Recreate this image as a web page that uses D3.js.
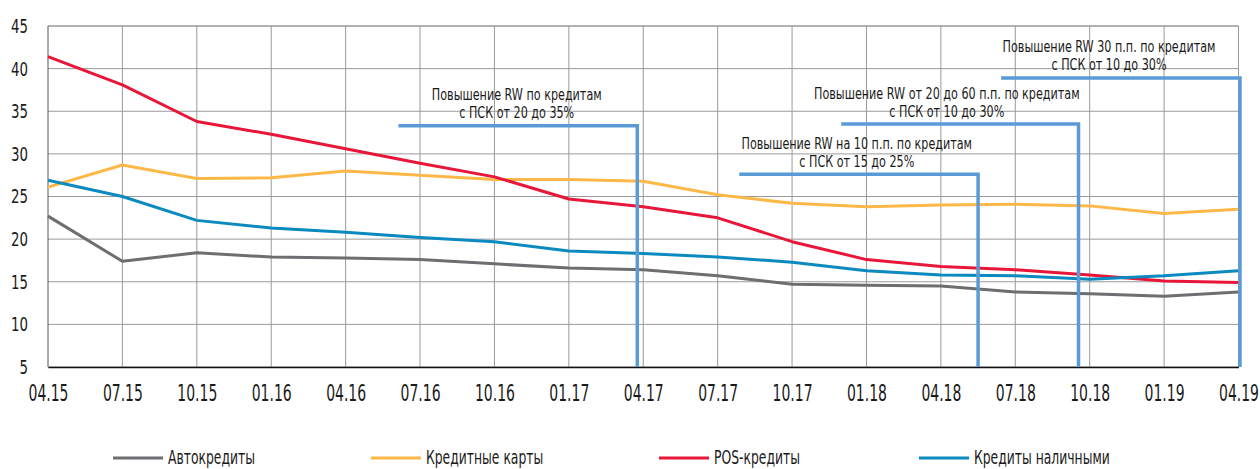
<!DOCTYPE html>
<html>
<head>
<meta charset="utf-8">
<script src="https://cdn.jsdelivr.net/npm/d3@7"></script>
<style>
  body { margin: 0; background: #fff; }
  #chart text { font-family: "DejaVu Sans Condensed", "Liberation Sans Narrow", "Open Sans", sans-serif; fill: #1a1a1a; }
</style>
</head>
<body>
<div id="chart"></div>
<script>
const categories = ["04.15", "07.15", "10.15", "01.16", "04.16", "07.16", "10.16", "01.17", "04.17",
                    "07.17", "10.17", "01.18", "04.18", "07.18", "10.18", "01.19", "04.19"];
const autoLoans = [22.7, 17.4, 18.4, 17.9, 17.8, 17.6, 17.1, 16.6, 16.4, 15.7, 14.7, 14.6, 14.5, 13.8, 13.6, 13.3, 13.8];
const creditCards = [26.1, 28.7, 27.1, 27.2, 28.0, 27.5, 27.0, 27.0, 26.8, 25.2, 24.2, 23.8, 24.0, 24.1, 23.9, 23.0, 23.5];
const posLoans = [41.4, 38.1, 33.8, 32.3, 30.6, 28.9, 27.3, 24.7, 23.8, 22.5, 19.7, 17.6, 16.8, 16.4, 15.8, 15.1, 14.9];
const cashLoans = [26.9, 25.0, 22.2, 21.3, 20.8, 20.2, 19.7, 18.6, 18.3, 17.9, 17.3, 16.3, 15.8, 15.7, 15.3, 15.7, 16.3];
const yTicks = [5, 10, 15, 20, 25, 30, 35, 40, 45];

const series = [
    {name: "Автокредиты", values: autoLoans, color: "#6d6e71"},
    {name: "Кредитные карты", values: creditCards, color: "#fdb848"},
    {name: "POS-кредиты", values: posLoans, color: "#e8173a"},
    {name: "Кредиты наличными", values: cashLoans, color: "#0a8abf"}
];

// annotations: from/to/textAt as (fractional) category index, level in y units
const annotations = [
    {lines: ["Повышение RW по кредитам", "с ПСК от 20 до 35%"], from: 4.71, to: 7.92, textAt: 6.30, level: 33.3},
    {lines: ["Повышение RW на 10 п.п. по кредитам", "с ПСК от 15 до 25%"], from: 9.29, to: 12.5, textAt: 10.87, level: 27.6},
    {lines: ["Повышение RW от 20 до 60 п.п. по кредитам", "с ПСК от 10 до 30%"], from: 10.66, to: 13.85, textAt: 12.08, level: 33.5},
    {lines: ["Повышение RW 30 п.п. по кредитам", "с ПСК от 10 до 30%"], from: 12.81, to: 16.02, textAt: 14.26, level: 38.9}
];

const width = 1260, height = 469;
const margin = {top: 26, right: 21.5, bottom: 102, left: 48};

const svg = d3.select("#chart").append("svg")
    .attr("width", width)
    .attr("height", height);

// the reference font is a narrow one; squeeze glyphs horizontally
function squeezeFor(sample, size, target) {
    const t = svg.append("text").style("font-size", size + "px").text(sample);
    const w = t.node().getComputedTextLength();
    t.remove();
    return target / w;
}
function squeeze(sel, s) {
    sel.each(function() {
        const el = d3.select(this);
        const x0 = +el.attr("x") || 0;
        el.attr("x", x0 / s).attr("transform", `scale(${s},1)`);
    });
}

const x = d3.scalePoint()
    .domain(categories)
    .range([margin.left, width - margin.right]);
const xi = i => x(categories[0]) + i * x.step();

const y = d3.scaleLinear()
    .domain([5, 45])
    .range([height - margin.bottom, margin.top]);

// grid
svg.append("g")
    .selectAll("line")
    .data(yTicks)
    .join("line")
        .attr("x1", margin.left)
        .attr("x2", width - margin.right)
        .attr("y1", d => y(d))
        .attr("y2", d => y(d))
        .attr("stroke", d => d === 45 ? "#666" : "#9a9a9a")
        .attr("stroke-width", 1);

svg.append("g")
    .selectAll("line")
    .data(categories)
    .join("line")
        .attr("x1", d => x(d))
        .attr("x2", d => x(d))
        .attr("y1", y(45))
        .attr("y2", y(5))
        .attr("stroke", (d, i) => i === 0 ? "#555" : "#9a9a9a")
        .attr("stroke-width", 1);

// axes
const xAxis = svg.append("g")
    .attr("transform", `translate(0,${y(5)})`)
    .call(d3.axisBottom(x).tickSize(0).tickPadding(18));
xAxis.select(".domain").attr("stroke", "#111").attr("stroke-width", 1.5);
xAxis.selectAll("text").style("font-size", "23px");
squeeze(xAxis.selectAll("text"), squeezeFor("04.19", 23, 40));

const yAxis = svg.append("g")
    .attr("transform", `translate(${margin.left},0)`)
    .call(d3.axisLeft(y).tickValues(yTicks).tickSize(0).tickPadding(20));
yAxis.select(".domain").remove();
yAxis.selectAll("text").style("font-size", "20px");
squeeze(yAxis.selectAll("text"), squeezeFor("45", 20, 17));

// lines
const line = d3.line()
    .x((d, i) => x(categories[i]))
    .y(d => y(d));

svg.append("g")
    .selectAll("path")
    .data(series)
    .join("path")
        .attr("d", d => line(d.values))
        .attr("fill", "none")
        .attr("stroke", d => d.color)
        .attr("stroke-width", 3)
        .attr("stroke-linejoin", "round");

// annotations
const annScale = squeezeFor("Повышение RW по кредитам", 16.5, 170);
const ann = svg.append("g").selectAll("g")
    .data(annotations)
    .join("g");

ann.append("path")
    .attr("d", d => `M${xi(d.from)},${y(d.level)}H${xi(d.to)}V${y(5)}`)
    .attr("fill", "none")
    .attr("stroke", "#5b9bd5")
    .attr("stroke-width", 3.5);

ann.each(function(d) {
    const txt = d3.select(this).selectAll("text")
        .data(d.lines)
        .join("text")
            .attr("x", xi(d.textAt))
            .attr("y", (t, j) => y(d.level) - 25.5 + j * 18)
            .attr("text-anchor", "middle")
            .style("font-size", "16.5px")
            .text(t => t);
    squeeze(txt, annScale);
});

// legend
const legendX = [113, 371, 659, 919];
const legend = svg.append("g").selectAll("g")
    .data(series)
    .join("g")
        .attr("transform", (d, i) => `translate(${legendX[i]},458)`);

legend.append("line")
    .attr("x1", 0).attr("x2", 50)
    .attr("stroke", d => d.color)
    .attr("stroke-width", 3);

const legendText = legend.append("text")
    .attr("x", 55)
    .attr("y", 6)
    .style("font-size", "19px")
    .text(d => d.name);
squeeze(legendText, squeezeFor("Автокредиты", 19, 87));
</script>
</body>
</html>
